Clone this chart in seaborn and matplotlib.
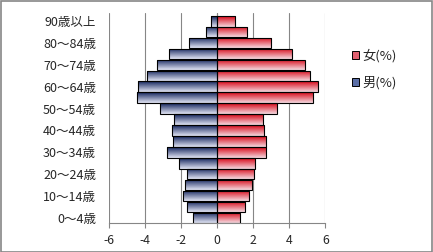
import numpy as np
import pandas as pd
import matplotlib
matplotlib.use('Agg')
import matplotlib.pyplot as plt
import seaborn as sns
from matplotlib.patches import Rectangle, Patch

ages = ['0～4歳', '5～9歳', '10～14歳', '15～19歳', '20～24歳', '25～29歳',
        '30～34歳', '35～39歳', '40～44歳', '45～49歳', '50～54歳', '55～59歳',
        '60～64歳', '65～69歳', '70～74歳', '75～79歳', '80～84歳', '85～89歳',
        '90歳以上']
male = [-1.32, -1.65, -1.87, -1.76, -1.65, -2.09, -2.76, -2.43, -2.48, -2.37,
        -3.15, -4.44, -4.37, -3.87, -3.32, -2.65, -1.54, -0.63, -0.35]
female = [1.29, 1.57, 1.80, 1.96, 2.06, 2.11, 2.74, 2.74, 2.61, 2.57,
          3.30, 5.30, 5.57, 5.13, 4.85, 4.13, 3.02, 1.68, 1.02]
series = ['女(%)', '男(%)']
xticks = [-6, -4, -2, 0, 2, 4, 6]

sns.set_style('white')
plt.rcParams['font.family'] = ['Noto Sans CJK JP', 'DejaVu Sans']

df = pd.DataFrame({
    'age': ages * 2,
    'value': female + male,
    'sex': [series[0]] * len(ages) + [series[1]] * len(ages),
})
order = ages[::-1]

fig = plt.figure(figsize=(4.33, 2.52), dpi=100)
W, H = 433, 252
left, right, top, bottom = 108.5, 325.3, 13.3, 223.3
ax = fig.add_axes([left / W, 1 - bottom / H, (right - left) / W, (bottom - top) / H])

red_top = np.array([214, 6, 22]) / 255
red_bot = np.array([246, 218, 225]) / 255
blue_top = np.array([20, 36, 92]) / 255
blue_bot = np.array([226, 230, 245]) / 255

sns.barplot(data=df, y='age', x='value', hue='sex', order=order,
            hue_order=series, orient='h', dodge=False, errorbar=None,
            width=0.97, palette=['#d9404f', '#4a5f9a'], ax=ax, legend=False,
            edgecolor='black', linewidth=0.8, zorder=3)

def grad(c1, c2, n=64):
    t = np.linspace(0, 1, n)[:, None]
    g = c1[None, :] * (1 - t) + c2[None, :] * t
    return g[:, None, :]

for p in list(ax.patches):
    x0, y0 = p.get_x(), p.get_y()
    w, h = p.get_width(), p.get_height()
    if w == 0:
        continue
    if w > 0:
        img = grad(red_top, red_bot)
    else:
        img = grad(blue_top, blue_bot)
    xa, xb = min(x0, x0 + w), max(x0, x0 + w)
    ya, yb = min(y0, y0 + h), max(y0, y0 + h)
    im = ax.imshow(img, extent=(xa, xb, yb, ya), aspect='auto',
                   origin='upper', zorder=2.5, interpolation='bilinear')
    im.set_clip_path(p)
    p.set_facecolor('none')

ax.set_xlim(-6, 6)
ax.set_ylim(18.5, -0.73)
ax.set_xticks(xticks)
ax.set_xticklabels([str(v) for v in xticks], fontsize=8.8)
ax.set_yticks(range(len(order)))
ax.set_yticklabels([lab if (len(order) - 1 - i) % 2 == 0 else '' for i, lab in enumerate(order)],
                   fontsize=9)
ax.set_xlabel('')
ax.set_ylabel('')
ax.grid(axis='x', color='#868686', linewidth=0.8, zorder=0)
ax.grid(axis='y', visible=False)
for s in ['top', 'right', 'left']:
    ax.spines[s].set_visible(False)
ax.spines['bottom'].set_color('#868686')
ax.spines['bottom'].set_linewidth(0.8)
ax.axvline(0, color='#868686', linewidth=0.8, zorder=1)
ax.tick_params(axis='x', direction='out', length=3.5, color='#868686', width=0.8, pad=4,
               bottom=True)
ax.tick_params(axis='y', length=0, pad=9)

handles = [Patch(facecolor='#e06070', edgecolor='black', linewidth=0.7),
           Patch(facecolor='#5a6ea6', edgecolor='black', linewidth=0.7)]
fig.legend(handles, series, loc='upper left', bbox_to_anchor=(345 / W, 1 - 42 / H),
           frameon=False, fontsize=9.5, handlelength=0.55, handleheight=0.55,
           handletextpad=0.3, labelspacing=1.05, borderpad=0)

fig.patches.append(Rectangle((0.5 / W, 0.5 / H), 1 - 1.5 / W, 1 - 1.5 / H,
                             transform=fig.transFigure, fill=False,
                             edgecolor='#868686', linewidth=1.2))

fig.savefig('out.png', dpi=100)
